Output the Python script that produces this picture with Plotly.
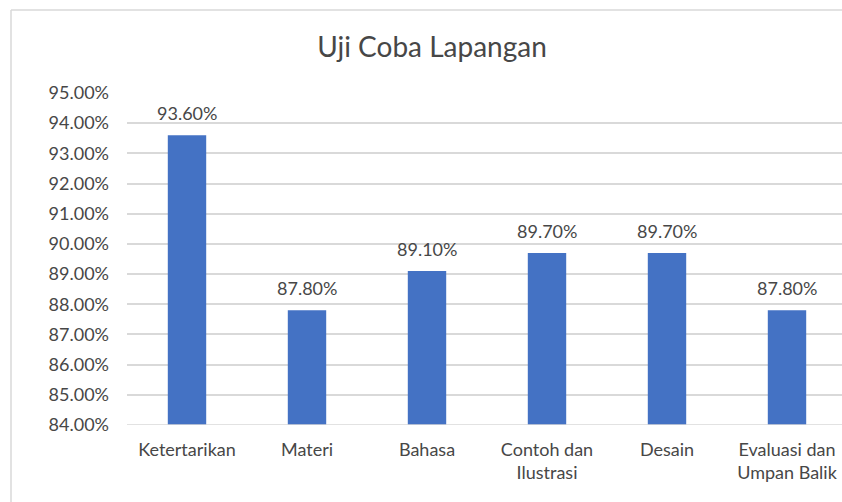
import plotly.graph_objects as go

categories = ["Ketertarikan", "Materi", "Bahasa", "Contoh dan<br>Ilustrasi", "Desain", "Evaluasi dan<br>Umpan Balik"]
values = [93.6, 87.8, 89.1, 89.7, 89.7, 87.8]
labels = [f"{v:.2f}%" for v in values]

W, H = 842, 502
L, R, T, B = 127, 0, 93, 77
pw = W - L - R
ph = H - T - B
TXT = "#474747"

fig = go.Figure(go.Bar(
    x=list(range(len(categories))), y=values,
    marker=dict(color="#4472C4", line=dict(width=0)), width=0.32, cliponaxis=False,
))

for i, (v, t) in enumerate(zip(values, labels)):
    fig.add_annotation(x=i, y=v, text=t, showarrow=False, yanchor="bottom", yshift=9,
                       font=dict(size=18, color=TXT))

def px_x(p):
    return (p - L) / pw

def px_y(p):
    return (H - B - p) / ph

fig.update_layout(
    width=W, height=H,
    margin=dict(l=L, r=R, t=T, b=B),
    paper_bgcolor="white", plot_bgcolor="white",
    font=dict(family="Lato, Open Sans, sans-serif", color=TXT),
    title=dict(text="Uji Coba Lapangan", x=432 / W, xanchor="center", y=1 - 47 / H, yanchor="middle",
               font=dict(size=28, color=TXT)),
    showlegend=False,
    xaxis=dict(range=[-0.5, -0.5 + pw / 120], tickmode="array", tickvals=list(range(len(categories))),
               ticktext=categories, showgrid=False, zeroline=False, showline=False,
               tickfont=dict(size=18, color=TXT), ticks="", ticklabelstandoff=12),
    yaxis=dict(range=[84, 95], dtick=1, tickformat=".2f", ticksuffix="%", showgrid=True,
               gridcolor="#D9D9D9", gridwidth=1.5, zeroline=False, showline=False,
               tickfont=dict(size=18, color=TXT), ticklabelstandoff=17),
    shapes=[
        dict(type="line", xref="paper", yref="paper", x0=px_x(11), x1=px_x(11), y0=px_y(10), y1=px_y(H + 5),
             line=dict(color="#D9D9D9", width=1.5)),
        dict(type="line", xref="paper", yref="paper", x0=px_x(11), x1=px_x(W + 5), y0=px_y(10), y1=px_y(10),
             line=dict(color="#D9D9D9", width=1.5)),
        dict(type="line", xref="paper", yref="y", x0=0, x1=1, y0=84, y1=84,
             line=dict(color="#D9D9D9", width=1.5)),
    ],
)

fig.write_html("out.html", config={"displayModeBar": False},
               post_script="document.body.style.margin='0';document.body.style.overflow='hidden';")
